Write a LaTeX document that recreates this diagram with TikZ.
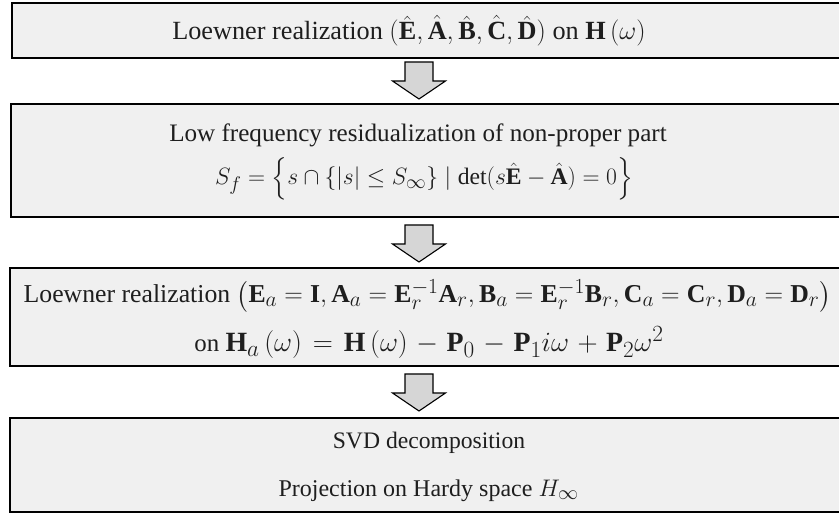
\documentclass[tikz,border=0pt]{standalone}
\usepackage{amsmath,amssymb}
\usepackage{graphicx}
\usepackage{fontspec}
\setmainfont{Liberation Serif}
\definecolor{boxgray}{HTML}{F0F0F0}
\definecolor{arrowgray}{HTML}{D6D6D6}
\definecolor{inkgray}{HTML}{1E1E1E}
\tikzset{
  stagebox/.style={draw=black, line width=1.7pt, fill=boxgray, minimum width=840pt, anchor=north west, inner sep=0pt, outer sep=0pt},
  stagetext/.style={anchor=base, inner sep=0pt, text=inkgray, font=\fontsize{24.88}{30}\selectfont},
  arrowstyle/.style={draw=black, line width=1.1pt, fill=arrowgray, line join=miter},
  pics/downarrow/.style={code={
    \draw[arrowstyle] (-14,0) -- (-14,19) -- (-26.5,19) -- (0,37) -- (26.5,19) -- (14,19) -- (14,0) -- cycle;}}
}
\begin{document}
\begin{tikzpicture}[x=1pt,y=-1pt]
\useasboundingbox (0,0) rectangle (839,513);
\clip (0,0) rectangle (839,513);
\fill[white] (0,0) rectangle (839,513);
% boxes
\node[stagebox, minimum height=55pt] (b1) at (12,3) {};
\node[stagebox, minimum height=113pt] (b2) at (11,104) {};
\node[stagebox, minimum height=98pt] (b3) at (10,268) {};
\node[stagebox, minimum height=94pt] (b4) at (10,418) {};
% texts
\node[stagetext] (t1) at (409,40) {\scalebox{1.055}{Loewner realization $(\hat{\mathbf{E}},\hat{\mathbf{A}},\hat{\mathbf{B}},\hat{\mathbf{C}},\hat{\mathbf{D}})$ on $\mathbf{H}\left(\omega\right)$}};
\node[stagetext] (t2a) at (418,142) {\scalebox{1.01}{Low frequency residualization of non-proper part}};
\node[stagetext] (t2b) at (424,185) {\scalebox{0.95}{$S_f=\Bigl\{s\cap\{|s|\le S_\infty\}\mid\det(s\hat{\mathbf{E}}-\hat{\mathbf{A}})=0\Bigr\}$}};
\node[stagetext] (t3a) at (427.5,303) {\scalebox{1.035}{Loewner realization $\left(\mathbf{E}_a=\mathbf{I},\mathbf{A}_a=\mathbf{E}_r^{-1}\mathbf{A}_r,\mathbf{B}_a=\mathbf{E}_r^{-1}\mathbf{B}_r,\mathbf{C}_a=\mathbf{C}_r,\mathbf{D}_a=\mathbf{D}_r\right)$}};
\node[stagetext] (t3b) at (429,352) {on \scalebox{1.12}{$\thickmuskip=7mu\medmuskip=5.5mu\mathbf{H}_a\left(\omega\right)=\mathbf{H}\left(\omega\right)-\mathbf{P}_0-\mathbf{P}_1 i\omega+\mathbf{P}_2\omega^2$}};
\node[stagetext] (t4a) at (429,448) {\scalebox{0.95}{SVD decomposition}};
\node[stagetext] (t4b) at (428.5,496) {\scalebox{0.965}{Projection on Hardy space $H_\infty$}};
% arrows
\pic at (419,62) {downarrow};
\pic at (419,225) {downarrow};
\pic at (419,374) {downarrow};
\end{tikzpicture}
\end{document}
